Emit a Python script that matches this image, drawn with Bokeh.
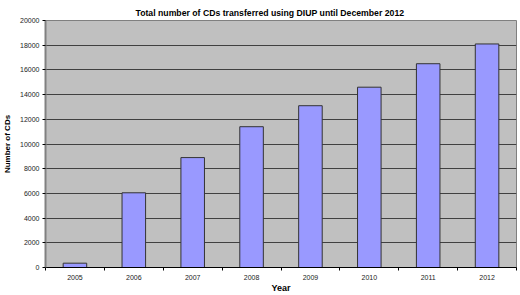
from bokeh.plotting import figure
from bokeh.models import FixedTicker, Range1d, ColumnDataSource
from bokeh.embed import file_html
from bokeh.resources import INLINE

years = ["2005", "2006", "2007", "2008", "2009", "2010", "2011", "2012"]
cds = [350, 6050, 8900, 11400, 13100, 14600, 16500, 18100]
y_ticks = list(range(0, 20001, 2000))

xpos = [i + 0.5 for i in range(len(years))]
src = ColumnDataSource(dict(x=xpos, top=cds, year=years))

p = figure(width=520, height=295, output_backend="svg", toolbar_location=None,
           x_range=Range1d(0, len(years)), y_range=Range1d(0, 20000),
           min_border_left=41, min_border_right=4, min_border_top=20, min_border_bottom=27)
p.background_fill_color = "#C0C0C0"
p.border_fill_color = "white"
p.outline_line_color = "#808080"
p.outline_line_width = 1

p.title.text = "Total number of CDs transferred using DIUP until December 2012"
p.title.text_font = "Liberation Sans"
p.title.text_font_size = "8.7px"
p.title.text_font_style = "bold"
p.title.text_color = "black"
p.title.align = "left"
p.title.vertical_align = "top"
p.title.offset = 90
p.title.standoff = 2

p.vbar(x="x", top="top", width=0.4, source=src, fill_color="#9999FF", line_color="#333333", line_width=1)

xa = p.xaxis[0]
xa.ticker = FixedTicker(ticks=xpos, minor_ticks=list(range(len(years) + 1)))
xa.major_label_overrides = {x: y for x, y in zip(xpos, years)}
xa.major_tick_line_color = None
xa.major_tick_in = 0
xa.major_tick_out = 0
xa.minor_tick_line_color = "#000000"
xa.minor_tick_in = 0
xa.minor_tick_out = 3
xa.axis_line_color = "#000000"
xa.major_label_text_font = "Liberation Sans"
xa.major_label_text_font_size = "7px"
xa.major_label_text_color = "#222222"
xa.major_label_standoff = 4
xa.axis_label = "Year"
xa.axis_label_text_font = "Liberation Sans"
xa.axis_label_text_font_size = "9px"
xa.axis_label_text_font_style = "bold"
xa.axis_label_text_color = "black"
xa.axis_label_standoff = 0

ya = p.yaxis[0]
ya.ticker = FixedTicker(ticks=y_ticks)
ya.minor_tick_line_color = None
ya.minor_tick_in = 0
ya.minor_tick_out = 0
ya.major_tick_in = 0
ya.major_tick_out = 3
ya.major_tick_line_color = "#000000"
ya.axis_line_color = "#808080"
ya.axis_line_width = 2
ya.major_label_text_font = "Liberation Sans"
ya.major_label_text_font_size = "7px"
ya.major_label_text_color = "#222222"
ya.major_label_standoff = 3
ya.axis_label = "Number of CDs"
ya.axis_label_text_font = "Liberation Sans"
ya.axis_label_text_font_size = "8px"
ya.axis_label_text_font_style = "bold"
ya.axis_label_text_color = "black"
ya.axis_label_standoff = 5

p.xgrid.grid_line_color = None
p.ygrid.ticker = FixedTicker(ticks=y_ticks)
p.ygrid.grid_line_color = "#404040"
p.ygrid.grid_line_width = 1

open("out.html", "w").write(file_html(p, INLINE))
